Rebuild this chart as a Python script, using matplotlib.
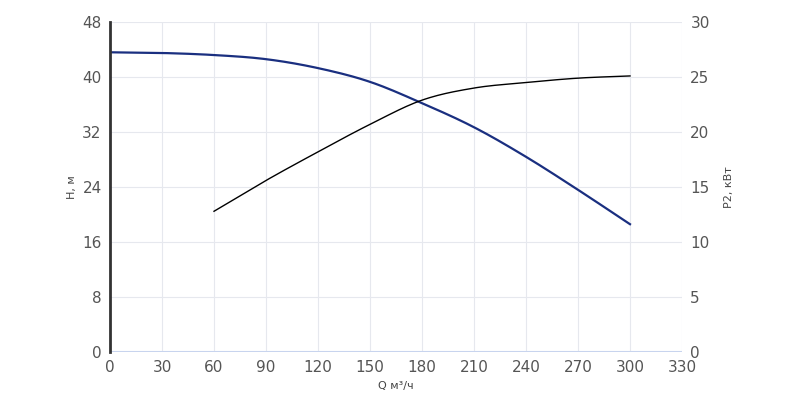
import numpy as np
import matplotlib.pyplot as plt

q = [0, 30, 60, 90, 120, 150, 180, 210, 240, 270, 300]
head = [43.6, 43.5, 43.2, 42.6, 41.3, 39.3, 36.2, 32.7, 28.4, 23.6, 18.6]
q_p = [60, 90, 120, 150, 180, 210, 240, 270, 300]
power = [12.8, 15.6, 18.2, 20.7, 22.9, 24.0, 24.5, 24.9, 25.1]


def smooth(x, y, n=20):
    x = np.asarray(x, float)
    y = np.asarray(y, float)
    px = np.concatenate([[2 * x[0] - x[1]], x, [2 * x[-1] - x[-2]]])
    py = np.concatenate([[2 * y[0] - y[1]], y, [2 * y[-1] - y[-2]]])
    t = np.linspace(0, 1, n, endpoint=False)
    xs, ys = [], []
    for i in range(1, len(px) - 2):
        for p, out in ((px, xs), (py, ys)):
            p0, p1, p2, p3 = p[i - 1:i + 3]
            out.extend(0.5 * (2 * p1 + (-p0 + p2) * t
                              + (2 * p0 - 5 * p1 + 4 * p2 - p3) * t ** 2
                              + (-p0 + 3 * p1 - 3 * p2 + p3) * t ** 3))
    xs.append(x[-1])
    ys.append(y[-1])
    return xs, ys


fig = plt.figure(figsize=(8, 4.08), dpi=100)
ax = fig.add_axes([0.1375, 0.137, 0.715, 0.809])
ax2 = ax.twinx()

ax.plot(*smooth(q, head), color="#1a2f80", lw=1.6)
ax2.plot(*smooth(q_p, power), color="black", lw=1.0)

ax.set_xlim(0, 330)
ax.set_ylim(0, 48)
ax2.set_ylim(0, 30)
ax.set_xticks(range(0, 331, 30))
ax.set_yticks(range(0, 49, 8))
ax2.set_yticks(range(0, 31, 5))
ax.grid(True, color="#e6e8ee", lw=0.8)

for a in (ax, ax2):
    for s in a.spines.values():
        s.set_visible(False)
    a.tick_params(length=0, labelsize=11, labelcolor="#555555", pad=6)
ax.spines["left"].set_visible(True)
ax.spines["left"].set_color("#333333")
ax.spines["left"].set_linestyle((0, (1.2, 1.0)))
ax.spines["left"].set_linewidth(2)
ax.axhline(0, color="#c8d4ee", lw=1.5)

ax.set_xlabel("Q м³/ч", fontsize=8, color="#444444")
ax.set_ylabel("H, м", fontsize=8, color="#444444")
ax2.set_ylabel("P2, кВт", fontsize=8, color="#444444", labelpad=10)

fig.savefig("out.png")
